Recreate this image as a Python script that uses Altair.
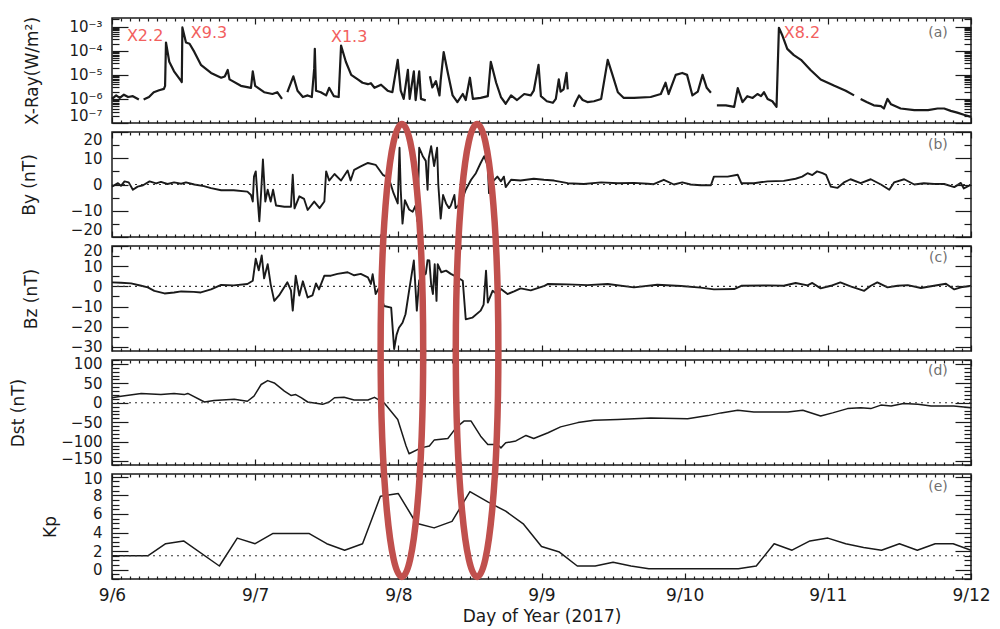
import altair as alt
import pandas as pd

FONT = "DejaVu Sans"
INK = "#1a1a1a"
W, H, GAP = 859, 105, 9
LABEL_FS = 15

# ---------------- data (hours since 2017-09-06 00:00 UT) ----------------
xray_hours = [
    0, 0.7, 1.3, 2.0, 2.7, 3.5, 4.5,
    5.3, 6.2, 7.0, 7.9, 8.7, 8.9, 9.05, 9.6, 10.4, 11.6, 11.7, 11.8, 12.4, 13.0,
    13.8, 14.9, 16.6, 18.3, 18.9, 19.4, 19.7, 21.6, 23.3, 23.6, 24.0, 25.5, 26.9, 27.7, 28.5,
    29.4, 30.4, 31.1, 32.0, 32.8, 33.5, 33.9, 34.0, 34.2, 35.0, 35.9, 36.4, 37.2, 38.0,
    38.4, 39.2, 40.1, 41.2, 42.0, 42.9, 43.4, 44.0, 45.1, 46.2, 47.0, 47.9, 48.4, 48.9,
    49.6, 49.9, 50.6, 50.9, 51.5, 51.8, 52.6,
    53.3, 53.7, 54.3, 54.9, 55.1, 55.6, 56.3, 57.1, 57.9, 58.8, 59.3, 60.0, 60.5, 61.8,
    63.0, 63.5, 64.4, 65.2, 66.0, 66.9, 67.9, 69.1, 70.2, 70.7, 71.5, 71.9, 72.9, 73.9,
    74.4, 74.9, 75.2, 75.7, 76.2, 76.4,
    77.4, 77.8, 78.3, 78.9, 79.7, 80.8, 82.0, 83.1, 83.9, 84.8, 85.8, 87.5, 90.3, 92.0,
    92.8, 93.3, 94.5, 95.6, 96.4, 97.3, 98.2, 99.0, 99.7, 100.4,
    101.4, 102.9, 104.3, 104.9, 105.7, 106.5, 107.4, 108.2, 108.8, 109.3, 109.9, 110.7,
    111.4, 111.8, 112.4, 113.2, 114.3, 115.5, 117.1, 118.8, 121.1, 123.0, 124.4,
    125.5, 126.5, 127.7, 128.9, 129.4, 130.0, 130.6, 132.2, 134.5, 136.8, 138.4, 139.5,
    140.6, 141.7, 142.8, 144.0,
]
xray_flux = [
    1.0e-6, 1.4e-6, 1.1e-6, 1.5e-6, 1.2e-6, 1.3e-6, 9.5e-7,
    9.5e-7, 1.2e-6, 1.9e-6, 2.3e-6, 2.6e-6, 3.5e-6, 2.2e-4, 3.5e-5, 1.4e-5, 5.5e-6, 5.0e-6, 9.3e-4, 2.2e-4, 1.95e-4,
    9.0e-5, 2.6e-5, 1.2e-5, 7.6e-6, 8.5e-6, 1.6e-5, 6.5e-6, 3.5e-6, 2.9e-6, 1.4e-5, 3.5e-6, 1.9e-6, 1.6e-6, 1.9e-6, 1.0e-6,
    1.9e-6, 8.7e-6, 2.2e-6, 1.2e-6, 1.4e-6, 1.2e-6, 1.9e-5, 1.2e-4, 2.2e-6, 1.9e-6, 1.4e-6, 2.9e-6, 1.3e-6, 1.2e-6,
    1.65e-4, 3.5e-5, 1.0e-5, 6.5e-6, 4.7e-6, 4.1e-6, 4.5e-6, 2.9e-6, 3.9e-6, 2.2e-6, 1.9e-6, 4.2e-5, 2.2e-6, 1.0e-6,
    1.6e-5, 1.0e-6, 1.4e-5, 9e-7, 1.4e-5, 1.0e-6, 8.7e-7,
    8.7e-6, 3.0e-6, 5.5e-6, 1.4e-6, 6e-6, 8.9e-5, 1.2e-5, 1.4e-6, 7.4e-7, 1.6e-6, 9e-7, 7.6e-6, 1.0e-6, 1.1e-6,
    1.3e-6, 3.5e-5, 4.7e-6, 1.2e-6, 6.3e-7, 1.4e-6, 9e-7, 1.6e-6, 1.4e-6, 2.2e-6, 2.6e-5, 1.3e-6, 8e-7, 6.9e-7,
    1.0e-6, 6.5e-6, 2.0e-6, 2.5e-6, 1.2e-5, 2.5e-6,
    4.7e-7, 8e-7, 1.4e-6, 9e-7, 7.4e-7, 8e-7, 1.0e-6, 4.2e-5, 1.0e-5, 1.9e-6, 1.1e-6, 1.1e-6, 1.2e-6, 1.6e-6,
    4.7e-6, 1.6e-6, 1.0e-5, 1.2e-5, 1.0e-5, 1.4e-6, 2e-6, 1.0e-5, 2.9e-6, 1.8e-6,
    5.4e-7, 5.4e-7, 4.7e-7, 2.8e-6, 7.4e-7, 1.3e-6, 1.1e-6, 1.6e-6, 1.3e-6, 1.9e-6, 1.0e-6, 8e-7,
    4.7e-7, 9.0e-4, 4.2e-4, 1.2e-4, 6.6e-5, 4.2e-5, 1.6e-5, 6.4e-6, 3.5e-6, 2.2e-6, 1.4e-6,
    1.0e-6, 7.4e-7, 5.4e-7, 5e-7, 4e-7, 1.0e-6, 6e-7, 4e-7, 3.4e-7, 3.4e-7, 4.0e-7, 4.0e-7,
    3.2e-7, 2.7e-7, 2.2e-7, 1.8e-7,
]
# number of points in each continuous stretch of GOES data (gaps between them)
xray_segment_sizes = [7, 29, 35, 34, 24, 23, 16]

by_hours = [
    0, 1.0, 1.5, 2.1, 2.8, 3.5, 4.3, 5.2, 6.3, 7.4, 8.2, 9.3, 10.4, 11.6, 12.4, 13.8, 15.4, 16.6, 18.3, 20.4,
    22.7, 23.3, 23.6, 23.8, 24.1, 24.4, 24.7, 25.0, 25.3, 25.7, 26.1, 26.6, 27.0, 27.5, 28.9, 30.0, 30.3, 30.6, 31.4, 32.2,
    32.8, 33.9, 34.8, 35.6, 35.9, 36.4, 37.3, 38.4, 39.5, 40.0, 40.6, 41.7, 42.9, 44.2, 45.4, 46.4, 47.2, 47.9, 48.2, 48.4,
    48.7, 49.1, 49.8, 50.4, 50.9, 51.2, 51.5, 52.1, 52.6, 52.9, 53.1, 53.5, 54.0, 54.5, 54.7, 55.1, 55.5, 56.0, 56.5, 56.8,
    57.4, 57.6, 58.5, 59.3, 60.2, 61.0, 61.8, 62.4, 63.0, 63.2, 63.8, 64.6, 65.2, 65.7, 66.0, 66.9, 68.5, 70.7, 72.4, 74.1,
    76.4, 79.1, 82.0, 84.8, 87.5, 89.8, 90.8, 92.5, 94.2, 95.6, 97.0, 98.7, 100.4, 100.9, 103.2, 104.9, 105.5, 107.6, 109.9, 112.6,
    114.6, 115.7, 116.6, 117.4, 118.2, 119.1, 119.7, 120.5, 121.6, 122.7, 123.8, 125.5, 127.2, 128.9, 130.3, 131.1, 132.8, 134.5, 136.1, 137.8,
    139.5, 141.2, 142.3, 142.8, 144.0,
]
by_nt = [
    -0.8, 0.5, -0.5, 1.2, 0.8, -2, -0.8, -0.3, 1.2, 0.4, 1.0, 0.2, 0.8, 0.3, 0.8, 0, -0.6, -1.4, -2.2, -2.2,
    -2.7, -4, -6.5, 3, 5, -5, -14, -3, 9.5, -6.5, -2, -6.5, -2, -8, -8.5, -8.5, 3.7, -9.1, -4.5, -5.5,
    -9.7, -6.5, -9, -6.5, 5, 1.5, 4, 1.5, 5.3, 1.5, 5.6, 6.9, 8.2, 7.5, 3.7, 2.5, -3.3, -7.2, 14, -2,
    -14.9, -6, -9.5, -10.4, -8, -14, 14, 10.8, 9, -2, 10, 14.6, 7, 14, 0, -13, -4, -7.2, -9, -8,
    -4, -9, -7, -2, 1.8, 4.3, 8.2, 10.8, 7, -3.3, 1, 3, 1.2, 3, -1, 1.8, 1.5, 2.2, 1.8, 1.5,
    0.5, 0.2, 0.8, 0.5, 0.6, 0.3, 0.1, 1.8, 0, 0.8, 0, -0.3, -0.3, 3, 3, 3.7, 0.5, 0.5, 1.2, 1.4,
    2.2, 3, 4.3, 3.6, 5, 4.3, 3.7, -0.8, -1.3, 0.8, 2, 0.5, 2, 0, -2, 0.8, 2, 0, 0.5, 0.2,
    0.2, -1, 0.6, -1.5, -0.1,
]

bz_hours = [
    0, 1.5, 3.2, 4.9, 6.0, 7.1, 8.8, 10.4, 11.6, 13.7, 14.9, 16.6, 18.3, 20.4, 22.7, 23.6, 24.1, 24.6, 25.1, 25.5,
    26.1, 26.6, 27.2, 28.0, 29.4, 30.0, 30.3, 30.8, 31.4, 32.0, 32.8, 33.6, 34.2, 34.7, 35.6, 36.7, 37.8, 39.5, 40.6, 41.7,
    42.9, 43.4, 43.7, 44.2, 44.7, 45.6, 46.8, 47.3, 47.7, 48.1, 48.7, 49.2, 49.8, 50.6, 51.1, 51.5, 52.1, 52.6, 52.9, 53.2,
    53.5, 53.8, 54.1, 54.4, 54.6, 55.2, 56.0, 56.8, 57.6, 58.8, 59.3, 60.4, 61.8, 62.3, 62.7, 63.0, 63.8, 64.6, 65.2, 66.3,
    67.4, 68.5, 70.2, 72.5, 73.1, 76.4, 79.7, 83.1, 87.5, 91.4, 95.4, 98.7, 100.9, 104.3, 105.5, 109.9, 112.6, 114.6, 116.6, 117.4,
    118.8, 120.5, 122.1, 123.8, 126.1, 127.2, 128.3, 130.0, 131.7, 133.4, 135.6, 137.8, 139.8, 141.2, 142.3, 144.0,
]
bz_nt = [
    2, 1.8, 1.5, 0.3, -0.5, -2.2, -3.5, -3, -2.5, -2.7, -3, -1.5, 0.7, 0.5, 1.2, 2.8, 13.7, 8, 15.3, 4,
    11, 1, -7.2, -4.5, 2, -2, -12, 5.3, -4.5, 2.5, -5.5, -4.5, 1.5, -1.5, 5.3, 5.3, 6.2, 7, 5.5, 6.2,
    4.5, 1.2, 6, -3.8, -1, -9.7, -10.5, -31, -24, -20.5, -18, -13.8, -2.2, 12.8, -12, 3, 5, 6.2, 13, 12.8,
    1, -3.8, 11, -7.2, 11, 7, 7.8, 6.2, 5, 2.8, -16.3, -15.5, -12, -9, 7.8, -8, -2.2, -4, -1.3, -3.8,
    -2.5, -1, -2, 0.3, 1.2, 1, 0.6, 1.2, -0.5, 0.8, 0.2, -0.6, -1.5, -1.3, 0.3, 0.5, 0.3, 1.7, 0.5, 1.7,
    -1, 0.3, 2, 0, -2.2, 0.3, 2, -0.5, 0.3, 0.6, -0.8, 0.3, 1.3, -1.5, -0.5, 0.3,
]

dst_hours = [
    0, 1.5, 4.9, 8.2, 10.4, 12.1, 12.7, 15.5, 17.1, 20.5, 22.7, 23.8, 25.0, 26.1, 27.2, 28.9, 30.0, 30.8, 31.7, 32.8,
    35.3, 36.4, 37.3, 38.9, 40.6, 42.9, 44.0, 45.6, 47.9, 49.3, 49.8, 51.8, 53.2, 54.0, 56.3, 57.7, 59.0, 60.2, 61.8, 63.0,
    64.6, 65.2, 66.0, 67.7, 69.4, 70.7, 73.1, 75.2, 78.1, 80.8, 84.8, 90.3, 96.5, 99.9, 102.1, 104.9, 107.6, 110.4, 113.3, 115.8,
    118.8, 120.8, 123.3, 125.5, 127.2, 128.9, 130.6, 132.7, 135.1, 137.3, 141.1, 144.0,
]
dst_nt = [
    13, 17, 24, 21, 24, 21, 24, 2, 6, 9, 4, 17, 47, 57, 51, 30, 19, 21, 13, 2,
    -4, 2, 13, 14, 7, 7, 14, 0, -43, -111, -131, -116, -111, -96, -92, -64, -47, -47, -86, -107,
    -107, -116, -103, -98, -84, -92, -77, -62, -51, -45, -43, -39, -41, -33, -26, -19, -24, -24, -24, -19,
    -34, -26, -15, -13, -15, -6, -8, -2, -4, -8, -8, -13,
]

kp_hours = [0, 6, 9, 12, 18, 21, 24, 27, 33, 36, 39, 42, 45, 48, 51, 54, 57, 60, 63, 66,
            69, 72, 75, 78, 81, 84, 87, 90, 105, 108, 111, 114, 117, 120, 123, 126, 129, 132, 135, 138,
            141, 144]
kp_val = [1.5, 1.5, 2.8, 3.1, 0.4, 3.4, 2.8, 3.9, 3.9, 2.8, 2.1, 2.8, 7.9, 8.2, 5.0, 4.5, 5.2, 8.4, 7.3, 6.3,
          4.9, 2.5, 1.9, 0.4, 0.4, 0.8, 0.4, 0.1, 0.1, 0.4, 2.8, 2.1, 3.1, 3.4, 2.8, 2.4, 2.1, 2.8, 2.1, 2.8,
          2.8, 2.1]

# reference (dotted) levels
by_ref = [0]
bz_ref = [0]
dst_ref = [0]
kp_ref = [1.5]

# flare annotations
flare_names = ["X2.2", "X9.3", "X1.3", "X8.2"]
flare_hours = [2.5, 13.2, 36.7, 112.6]
flare_flux = [4.3e-4, 5.5e-4, 3.9e-4, 5.5e-4]

# panel tags: (text, hour, value in panel units)
tag_text = ["(a)", "(b)", "(c)", "(d)", "(e)"]
tag_hour = [140.1, 140.1, 140.1, 140.1, 140.1]
tag_value = [5.5e-4, 14.9, 14.1, 81.7, 8.9]

# highlighted storm intervals (ellipse centres, in Kp-panel coordinates)
ellipse_hours = [48.6, 61.2]
ellipse_kp = [23.6, 23.6]

day_tick_hours = [0, 24, 48, 72, 96, 120, 144]
day_tick_labels = ["9/6", "9/7", "9/8", "9/9", "9/10", "9/11", "9/12"]
minor_hours = [i * 1.5 for i in range(97) if (i * 1.5) % 24 != 0]

# ---------------- frames ----------------
seg_ids = []
for k, n in enumerate(xray_segment_sizes):
    seg_ids += [k] * n
xray_df = pd.DataFrame({"h": xray_hours, "v": xray_flux, "seg": seg_ids})
by_df = pd.DataFrame({"h": by_hours, "v": by_nt})
bz_df = pd.DataFrame({"h": bz_hours, "v": bz_nt})
dst_df = pd.DataFrame({"h": dst_hours, "v": dst_nt})
kp_df = pd.DataFrame({"h": kp_hours, "v": kp_val})

xscale = alt.Scale(domain=[0, 144], nice=False, zero=False)

xray_scale = alt.Scale(type="log", domain=[1e-7, 2.3e-3], nice=False)
by_scale = alt.Scale(domain=[-20, 20], nice=False, zero=False)
bz_scale = alt.Scale(domain=[-32, 20], nice=False, zero=False)
dst_scale = alt.Scale(domain=[-160, 110], nice=False, zero=False)
kp_scale = alt.Scale(domain=[-1, 10.3], nice=False, zero=False)

xray_major = [1e-7, 1e-6, 1e-5, 1e-4, 1e-3]
xray_minor = [m * d for d in [1e-7, 1e-6, 1e-5, 1e-4, 1e-3] for m in range(2, 10) if m * d <= 2.3e-3]
SUP = "['⁰','¹','²','³','⁴','⁵','⁶','⁷','⁸','⁹']"
xray_label_expr = "'10⁻' + " + SUP + "[round(-log(datum.value)/LN10)]"
day_label_expr = "[" + ",".join("'%s'" % s for s in day_tick_labels) + "][round(datum.value/24)]"


def tick_axis(orient, values, size):
    return alt.Axis(orient=orient, values=values, offset=-size, tickSize=size, ticks=True,
                    labels=False, domain=False, grid=False, title=None,
                    tickColor=INK, tickWidth=1.2)


def y_label_axis(values, title, title_center, label_expr=None, flush_offset=0, nudge=None):
    kw = dict(orient="left", values=values, ticks=False, domain=False, grid=False,
              labelPadding=10, labelFlush=True, labelFlushOffset=flush_offset, labelOverlap=False,
              labelFontSize=LABEL_FS, labelFont=FONT, labelColor=INK,
              title=title, titleFont=FONT, titleFontSize=17, titleFontWeight="normal",
              titleColor=INK, titleX=title_center - 111, titleY=H / 2, titleAngle=270,
              titleBaseline="middle", titleAlign="center")
    if label_expr:
        kw["labelExpr"] = label_expr
    if nudge:
        val, off = nudge
        kw["labelOffset"] = {"condition": {"test": "datum.value == %s" % val, "value": off}, "value": 0}
    return alt.Axis(**kw)


x_label_axis = alt.Axis(orient="bottom", values=day_tick_hours, labelExpr=day_label_expr,
                        ticks=False, domain=False, grid=False, labelPadding=8, labelFlush=False,
                        labelOverlap=False, labelFontSize=17, labelFont=FONT, labelColor=INK,
                        title="Day of Year (2017)", titleFont=FONT, titleFontSize=17,
                        titleFontWeight="normal", titleColor=INK, titlePadding=5)


def panel(df, yscale, ymajor, yminor, ytitle, tcenter, width_px, tag_i,
          label_expr=None, detail=False, x_labels=False, ref=None, extras=(), flush_offset=0,
          nudge=None):
    base = alt.Chart(df)
    enc = dict(
        x=alt.X("h:Q", scale=xscale, axis=x_label_axis if x_labels else None),
        y=alt.Y("v:Q", scale=yscale,
                axis=y_label_axis(ymajor, ytitle, tcenter, label_expr, flush_offset, nudge)),
    )
    if detail:
        enc["detail"] = alt.Detail("seg:N")
    line = base.mark_line(color=INK, strokeWidth=width_px, strokeJoin="round").encode(**enc)
    layers = [line]
    for (yo, yv, ys), (xo, xv, xs) in [
        (("left", ymajor, 16), ("bottom", day_tick_hours, 6)),
        (("left", yminor, 7), ("bottom", minor_hours, 3)),
        (("right", ymajor, 16), ("top", day_tick_hours, 6)),
        (("right", yminor, 7), ("top", minor_hours, 3)),
    ]:
        layers.append(base.mark_point(opacity=0, size=1).encode(
            x=alt.X("h:Q", scale=xscale, axis=tick_axis(xo, xv, xs)),
            y=alt.Y("v:Q", scale=yscale, axis=tick_axis(yo, yv, ys)),
        ))
    if ref is not None:
        layers.append(alt.Chart(pd.DataFrame({"r": ref})).mark_rule(
            color="#333333", strokeDash=[2, 4], strokeWidth=1.1).encode(
            y=alt.Y("r:Q", scale=yscale, axis=None)))
    tag_df = pd.DataFrame({"h": [tag_hour[tag_i]], "v": [tag_value[tag_i]], "t": [tag_text[tag_i]]})
    layers.append(alt.Chart(tag_df).mark_text(
        align="right", baseline="middle", font=FONT, fontSize=14, color="#707070").encode(
        x=alt.X("h:Q", scale=xscale, axis=None),
        y=alt.Y("v:Q", scale=yscale, axis=None),
        text="t:N"))
    layers += list(extras)
    return (alt.layer(*layers).properties(width=W, height=H)
            .resolve_scale(x="shared", y="shared")
            .resolve_axis(x="independent", y="independent"))


flare_df = pd.DataFrame({"h": flare_hours, "v": flare_flux, "t": flare_names})
flare_layer = alt.Chart(flare_df).mark_text(
    align="left", baseline="middle", font=FONT, fontSize=16, color="#f2605e").encode(
    x=alt.X("h:Q", scale=xscale, axis=None),
    y=alt.Y("v:Q", scale=xray_scale, axis=None),
    text="t:N")

RX, K = 0.094, 0.5523
ELLIPSE = ("M0,-1 C{a},-1 {r},-{k} {r},0 C{r},{k} {a},1 0,1 "
           "C-{a},1 -{r},{k} -{r},0 C-{r},-{k} -{a},-1 0,-1 Z").format(a=round(RX * K, 4), r=RX, k=K)
ell_df = pd.DataFrame({"h": ellipse_hours, "k": ellipse_kp})
ellipse_layer = alt.Chart(ell_df).mark_point(
    shape=ELLIPSE, size=453 ** 2, filled=False, color="#c0504d", stroke="#c0504d",
    strokeWidth=6.5, opacity=1, clip=False).encode(
    x=alt.X("h:Q", scale=xscale, axis=None),
    y=alt.Y("k:Q", scale=kp_scale, axis=None))

pa = panel(xray_df, xray_scale, xray_major, xray_minor, "X-Ray(W/m²)", 31, 2.2, 0,
           label_expr=xray_label_expr, detail=True, extras=[flare_layer])
pb = panel(by_df, by_scale, [-20, -10, 0, 10, 20], [-15, -5, 5, 15], "By (nT)", 28, 1.9, 1, ref=by_ref)
pc = panel(bz_df, bz_scale, [-30, -20, -10, 0, 10, 20], [-25, -15, -5, 5, 15], "Bz (nT)", 30, 1.9, 2,
           ref=bz_ref, flush_offset=3)
pd_ = panel(dst_df, dst_scale, [-150, -100, -50, 0, 50, 100],
            [v for v in range(-160, 111, 10) if v % 50 != 0], "Dst (nT)", 17, 1.5, 3, ref=dst_ref,
            nudge=(-150, -3))
pe = panel(kp_df, kp_scale, [0, 2, 4, 6, 8, 10],
           [v / 2 for v in range(-2, 21) if v % 4 != 0], "Kp", 49, 1.5, 4,
           x_labels=True, ref=kp_ref, extras=[ellipse_layer], nudge=(10, 2))

chart = (alt.vconcat(pa, pb, pc, pd_, pe, spacing=GAP, bounds="flush")
         .properties(padding={"left": 0, "right": 0, "top": 7, "bottom": 2}, background="white")
         .configure_view(stroke=INK, strokeWidth=1.5)
         .configure_axis(labelFont=FONT, titleFont=FONT))

chart.save("out.html", embed_options={"renderer": "svg", "actions": False})
